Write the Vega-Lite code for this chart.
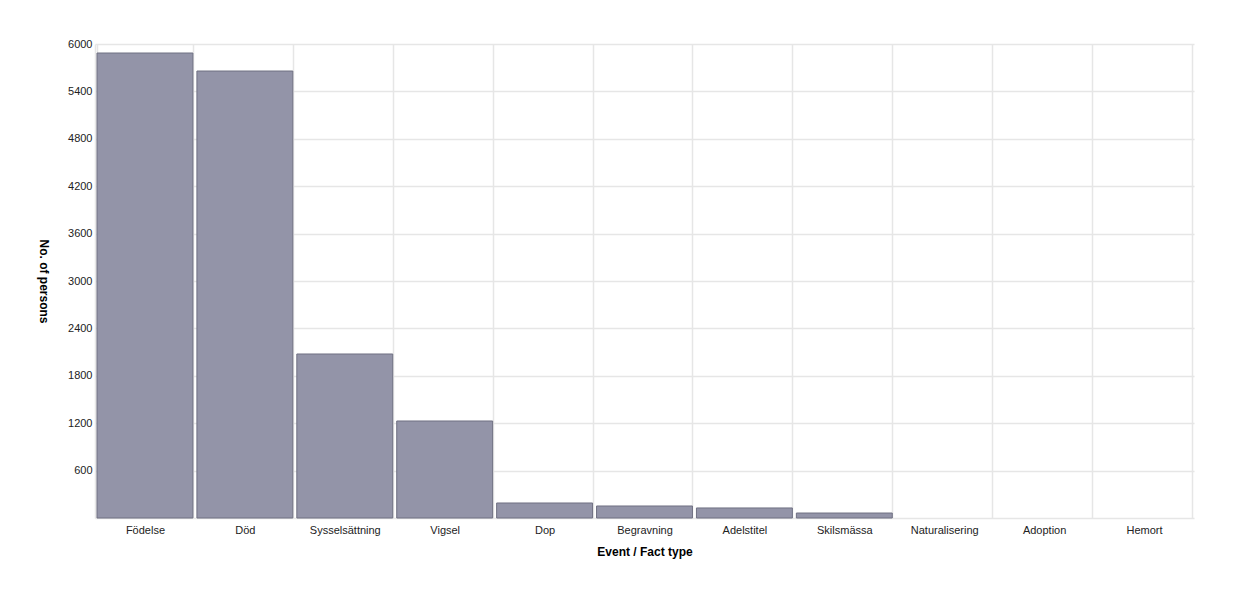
{
  "$schema": "https://vega.github.io/schema/vega-lite/v6.json",
  "width": 1099,
  "height": 474,
  "autosize": {"type": "none"},
  "padding": {"left": 95, "top": 44, "right": 40, "bottom": 76},
  "background": "white",
  "config": {
    "view": {"stroke": null},
    "font": "Liberation Sans"
  },
  "data": {
    "values": [
      {"type": "Födelse", "count": 5886},
      {"type": "Död", "count": 5658},
      {"type": "Sysselsättning", "count": 2076},
      {"type": "Vigsel", "count": 1228},
      {"type": "Dop", "count": 190},
      {"type": "Begravning", "count": 152},
      {"type": "Adelstitel", "count": 127},
      {"type": "Skilsmässa", "count": 63},
      {"type": "Naturalisering", "count": 0},
      {"type": "Adoption", "count": 0},
      {"type": "Hemort", "count": 0}
    ]
  },
  "mark": {"type": "bar", "fill": "#9394a8", "stroke": "#6f7082", "strokeWidth": 1},
  "encoding": {
    "x": {
      "field": "type",
      "type": "nominal",
      "sort": null,
      "scale": {"paddingInner": 0.04, "paddingOuter": 0.02},
      "axis": {
        "title": "Event / Fact type",
        "titleFontSize": 12,
        "titleFontWeight": "bold",
        "titleColor": "#000000",
        "titlePadding": 11,
        "labelAngle": 0,
        "labelFontSize": 11,
        "labelColor": "#222222",
        "labelPadding": 6,
        "ticks": false,
        "tickBand": "extent",
        "grid": true,
        "gridColor": "#e6e6e6",
        "gridWidth": 1.5,
        "domainColor": "#e6e6e6",
        "domainWidth": 1.5
      }
    },
    "y": {
      "field": "count",
      "type": "quantitative",
      "scale": {"domain": [0, 6000], "nice": false},
      "axis": {
        "title": "No. of persons",
        "titleFontSize": 12,
        "titleFontWeight": "bold",
        "titleColor": "#000000",
        "titleAngle": 90,
        "titlePadding": 31,
        "format": "d",
        "values": [600, 1200, 1800, 2400, 3000, 3600, 4200, 4800, 5400, 6000],
        "labelFontSize": 11,
        "labelColor": "#222222",
        "labelPadding": 3,
        "ticks": false,
        "grid": true,
        "gridColor": "#e6e6e6",
        "gridWidth": 1.5,
        "domainColor": "#e6e6e6",
        "domainWidth": 1.5
      }
    },
    "strokeOpacity": {
      "condition": {"test": "datum.count > 0", "value": 1},
      "value": 0
    }
  }
}
